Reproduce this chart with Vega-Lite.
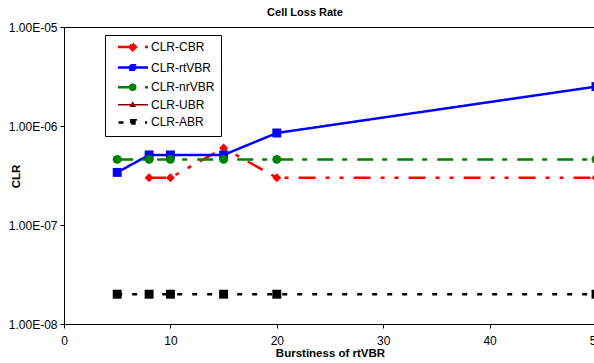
{
  "$schema": "https://vega.github.io/schema/vega-lite/v6.json",
  "autosize": "none",
  "width": 532,
  "height": 297,
  "padding": {"left": 64, "top": 27, "right": 0, "bottom": 39},
  "background": "white",
  "config": {
    "font": "Liberation Sans",
    "view": {"stroke": "black", "strokeWidth": 1},
    "axis": {"domainColor": "black", "tickColor": "black", "labelColor": "black", "titleColor": "black", "grid": false, "labelFont": "Liberation Sans", "titleFont": "Liberation Sans"}
  },
  "title": {"text": "Cell Loss Rate", "fontSize": 11, "font": "Liberation Sans", "fontWeight": "bold", "dx": -25, "offset": 3, "color": "black"},
  "data": {"values": [
    {"x": 8, "series": "CLR-CBR", "clr": 3.0e-7},
    {"x": 10, "series": "CLR-CBR", "clr": 3.0e-7},
    {"x": 15, "series": "CLR-CBR", "clr": 6.0e-7},
    {"x": 20, "series": "CLR-CBR", "clr": 3.0e-7},
    {"x": 50, "series": "CLR-CBR", "clr": 3.0e-7},
    {"x": 5, "series": "CLR-rtVBR", "clr": 3.4e-7},
    {"x": 8, "series": "CLR-rtVBR", "clr": 5.1e-7},
    {"x": 10, "series": "CLR-rtVBR", "clr": 5.1e-7},
    {"x": 15, "series": "CLR-rtVBR", "clr": 5.1e-7},
    {"x": 20, "series": "CLR-rtVBR", "clr": 8.5e-7},
    {"x": 50, "series": "CLR-rtVBR", "clr": 2.5e-6},
    {"x": 5, "series": "CLR-nrVBR", "clr": 4.6e-7},
    {"x": 8, "series": "CLR-nrVBR", "clr": 4.6e-7},
    {"x": 10, "series": "CLR-nrVBR", "clr": 4.6e-7},
    {"x": 15, "series": "CLR-nrVBR", "clr": 4.6e-7},
    {"x": 20, "series": "CLR-nrVBR", "clr": 4.6e-7},
    {"x": 50, "series": "CLR-nrVBR", "clr": 4.6e-7},
    {"x": 5, "series": "CLR-ABR", "clr": 2.0e-8},
    {"x": 8, "series": "CLR-ABR", "clr": 2.0e-8},
    {"x": 10, "series": "CLR-ABR", "clr": 2.0e-8},
    {"x": 15, "series": "CLR-ABR", "clr": 2.0e-8},
    {"x": 20, "series": "CLR-ABR", "clr": 2.0e-8},
    {"x": 50, "series": "CLR-ABR", "clr": 2.0e-8}
  ]},
  "encoding": {
    "x": {"field": "x", "type": "quantitative", "scale": {"domain": [0, 50], "nice": false},
      "axis": {"title": "Burstiness of rtVBR", "values": [0, 10, 20, 30, 40, 50], "labelFontSize": 12, "tickSize": 4, "labelPadding": 7, "titleFontSize": 11.5, "titleFontWeight": "bold", "titlePadding": 1, "labelFlush": false}},
    "y": {"field": "clr", "type": "quantitative", "scale": {"type": "log", "domain": [1e-8, 1e-5], "nice": false},
      "axis": {"title": "CLR", "values": [1e-8, 1e-7, 1e-6, 1e-5], "labelExpr": "'1.00E-0' + toString(-round(log(datum.value)/LN10))", "labelFontSize": 12, "tickSize": 4, "labelPadding": 3, "titleFontSize": 11.5, "titleFontWeight": "bold", "titleX": -48, "titleY": 149, "titleAngle": -90, "titleAlign": "center", "titleBaseline": "middle"}},
    "color": {"field": "series", "type": "nominal",
      "scale": {"domain": ["CLR-CBR", "CLR-rtVBR", "CLR-nrVBR", "CLR-UBR", "CLR-ABR"], "range": ["#FF0000", "#0000FF", "#008000", "#800000", "#000000"]},
      "legend": {"title": null, "orient": "none", "legendX": 41, "legendY": 8, "padding": 6, "strokeColor": "black", "fillColor": "white", "labelFontSize": 12, "labelFont": "Liberation Sans", "labelColor": "black", "labelOffset": 28, "symbolSize": 100, "rowPadding": 3.6,
        "encode": {"symbols": {"update": {
          "shape": {"signal": "datum.value === 'CLR-CBR' ? 'M0.2,0H3.8M5.6,0H6.2M3.14,-0.65L3.79,0L3.14,0.65L2.49,0Z' : datum.value === 'CLR-rtVBR' ? 'M0.2,0H6.2M2.69,-0.45H3.59V0.45H2.69Z' : datum.value === 'CLR-nrVBR' ? 'M0.2,0H3.8M5.6,0H6.2M2.64,0A0.5,0.5 0 1,0 3.64,0A0.5,0.5 0 1,0 2.64,0Z' : datum.value === 'CLR-UBR' ? 'M0.2,0H6.2M3.14,-0.4L3.55,0.3H2.73Z' : 'M0.3,0H1.3M5.6,0H6.0M2.84,-0.45H3.74V0.45H2.84Z'"},
          "fill": {"signal": "scale('color', datum.value)"},
          "stroke": {"signal": "scale('color', datum.value)"},
          "strokeWidth": {"signal": "datum.value === 'CLR-UBR' ? 1.5 : 2.5"},
          "strokeDash": {"value": [1, 0]},
          "opacity": {"value": 1},
          "fillOpacity": {"value": 1}
        }}}}
    }
  },
  "layer": [
    {"mark": {"type": "line", "strokeWidth": 2.5},
     "encoding": {
       "strokeDash": {"field": "series", "type": "nominal", "scale": {"domain": ["CLR-CBR", "CLR-rtVBR", "CLR-nrVBR", "CLR-UBR", "CLR-ABR"], "range": [[17, 10, 4, 10, 4, 10], [1, 0], [16, 9, 5, 10], [1, 0], [5, 10]]}, "legend": null}
     }},
    {"mark": {"type": "point", "filled": true, "opacity": 1, "size": 80},
     "encoding": {
       "shape": {"condition": [
         {"test": "datum.series === 'CLR-CBR'", "value": "diamond"},
         {"test": "datum.series === 'CLR-nrVBR'", "value": "circle"}
       ], "value": "square"}
     }}
  ]
}
